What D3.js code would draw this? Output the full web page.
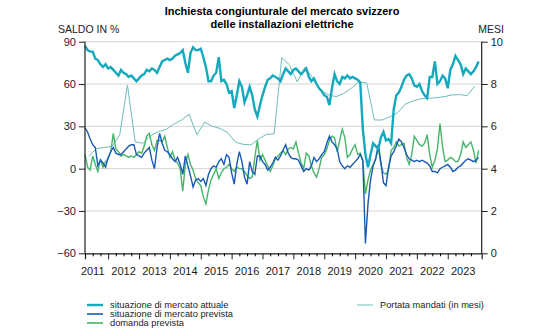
<!DOCTYPE html>
<html>
<head>
<meta charset="utf-8">
<script src="https://d3js.org/d3.v7.min.js"></script>
<style>
  body { margin: 0; background: #fff; }
  svg { font-family: "Liberation Sans", Arial, sans-serif; }
</style>
</head>
<body>
<svg id="chart" width="560" height="336"></svg>
<script>
// monthly series, first value = April 2011
var startYear = 2011.25;
var attuale = [87,84,83,83,78,77,74,72,74,71,72,70,68,66,70,68,67,65,66,64,62,64,66,67,70,69,71,70,68,72,
  76,77,78,77,78,80,81,82,84,75,68,82,86,84,84,85,79,72,62,62,66,68,79,62,63,60,54,55,43,52,
  62,58,47,52,58,52,42,37,45,52,58,63,64,66,65,64,62,67,71,69,67,70,71,69,67,69,71,65,62,64,
  60,57,55,52,51,45,57,67,62,60,65,64,66,64,65,64,63,61,28,10,1,10,18,16,14,22,26,20,21,18,
  42,52,54,58,63,66,67,64,59,58,60,55,52,50,65,65,76,60,62,66,64,57,70,74,80,77,74,67,71,69,
  67,69,72,76];
var prevista = [29,26,21,17,15,2,6,4,1,8,12,15,11,10,10,12,14,16,17,17,10,9,8,11,13,15,6,0,15,25,
  18,13,12,10,7,5,8,3,-4,9,2,-5,-13,-8,-7,-9,-7,-12,-4,0,2,1,5,7,3,10,8,-3,-11,3,
  12,5,-6,-11,5,-2,-4,9,9,5,3,-1,1,4,8,6,9,13,17,11,8,7,7,6,2,-2,0,-1,2,8,
  5,7,10,12,18,23,19,17,14,5,2,0,2,1,3,5,7,10,6,-53,-25,-8,2,7,17,5,-10,-12,1,9,
  12,16,21,19,15,10,7,6,5,6,5,6,5,4,2,-2,-2,-3,0,1,2,3,1,-2,-1,1,2,4,6,7,
  6,5,6,8];
var domanda = [10,1,-1,9,3,-2,7,1,5,7,12,25,14,12,9,10,9,8,9,8,10,12,11,16,23,25,17,13,20,20,
  19,23,15,8,12,6,4,0,-16,3,10,3,-1,-7,-10,-12,-20,-25,-15,-8,-4,0,-7,-3,0,1,3,0,-2,1,
  0,0,-2,-5,-7,-6,8,20,6,10,6,2,-2,2,7,9,11,13,10,14,15,14,19,11,4,0,11,9,2,-3,
  -6,0,8,10,14,20,23,22,12,20,28,22,8,10,14,17,10,11,5,-18,-8,-1,3,7,15,3,-3,-4,-1,13,
  15,19,16,17,18,8,3,10,23,20,17,16,18,24,10,1,6,14,32,15,5,6,8,7,5,5,10,19,15,17,
  19,13,4,13];
// quarterly series (months), first value = Q2 2011
var mandati = [4.6,4.95,5.0,5.05,5.6,7.95,5.27,5.2,5.55,5.75,5.85,6.1,6.3,6.57,5.6,6.2,6.0,5.9,5.7,5.25,
  5.15,5.12,5.4,5.62,5.64,9.25,8.9,8.1,8.8,8.3,7.7,7.5,7.4,7.55,7.8,8.1,8.05,6.3,6.3,6.45,
  6.65,7.05,7.2,7.3,7.33,7.35,7.4,7.48,7.5,7.45,7.9];
var years = d3.range(2011, 2024);
var leftTicks = [-60, -30, 0, 30, 60, 90];
var rightTicks = [0, 2, 4, 6, 8, 10];

var svg = d3.select("#chart");
var pL = 85, pR = 481.7, pT = 41.7, pB = 253.3;

var x = d3.scaleLinear().domain([2011.25, 2024.1]).range([pL, pR]);
var yL = d3.scaleLinear().domain([-60, 90]).range([pB, pT]);
var yR = d3.scaleLinear().domain([0, 10]).range([pB, pT]);

// gridlines
svg.append("g").selectAll("line")
  .data(leftTicks.filter(function (d) { return d > -60; }))
  .enter().append("line")
  .attr("x1", pL).attr("x2", pR)
  .attr("y1", function (d) { return yL(d); })
  .attr("y2", function (d) { return yL(d); })
  .attr("stroke", "#d4d4d4").attr("stroke-width", 1);

function monthly(arr) {
  return arr.map(function (v, i) { return [startYear + i / 12, v]; });
}
function quarterly(arr) {
  return arr.map(function (v, i) { return [startYear + i / 4 + 0.125, v]; });
}

var lineL = d3.line().x(function (d) { return x(d[0]); }).y(function (d) { return yL(d[1]); });
var lineR = d3.line().x(function (d) { return x(d[0]); }).y(function (d) { return yR(d[1]); });

var cMand = "#6cbcb8", cAtt = "#14a9bd", cPrev = "#1759b5", cDom = "#46b46b";

svg.append("path").datum(quarterly(mandati)).attr("d", lineR)
  .attr("fill", "none").attr("stroke", cMand).attr("stroke-width", 1);
svg.append("path").datum(monthly(domanda)).attr("d", lineL)
  .attr("fill", "none").attr("stroke", cDom).attr("stroke-width", 1.4);
svg.append("path").datum(monthly(prevista)).attr("d", lineL)
  .attr("fill", "none").attr("stroke", cPrev).attr("stroke-width", 1.4);
svg.append("path").datum(monthly(attuale)).attr("d", lineL)
  .attr("fill", "none").attr("stroke", cAtt).attr("stroke-width", 2.4);

// axes
var axL = svg.append("g").attr("transform", "translate(" + pL + ",0)")
  .call(d3.axisLeft(yL).tickValues(leftTicks).tickSize(6).tickFormat(function (d) { return d < 0 ? "\u2212" + (-d) : d; }));
var axR = svg.append("g").attr("transform", "translate(" + pR + ",0)")
  .call(d3.axisRight(yR).tickValues(rightTicks).tickSize(6));
var quarters = d3.range(2011.25, 2024.01, 0.25).filter(function (d) { return d % 1 !== 0; });
var axB = svg.append("g").attr("transform", "translate(0," + pB + ")")
  .call(d3.axisBottom(x).tickValues(years.slice(1)).tickSize(6).tickFormat(""));
svg.append("g").attr("transform", "translate(0," + pB + ")")
  .call(d3.axisBottom(x).tickValues(quarters).tickSize(3).tickFormat(""))
  .select(".domain").remove();
svg.append("g").selectAll("text").data(years).enter().append("text")
  .attr("x", function (d) { return x(d + 0.5); })
  .attr("y", 275).attr("text-anchor", "middle")
  .attr("font-size", 11).attr("fill", "#222")
  .text(function (d) { return d; });

[axL, axR, axB].forEach(function (g) {
  g.select(".domain").attr("stroke", "#222").attr("stroke-width", 1.2);
  g.selectAll(".tick line").attr("stroke", "#222");
  g.selectAll(".tick text").attr("font-size", 11).attr("fill", "#222")
    .attr("font-family", "Liberation Sans, Arial, sans-serif");
});
axL.select(".domain").attr("d", "M0," + pB + "V" + pT);
axR.select(".domain").attr("d", "M0," + pB + "V" + pT);

// titles
svg.append("text").attr("x", 282).attr("y", 15).attr("text-anchor", "middle")
  .attr("font-size", 11).attr("font-weight", "bold").text("Inchiesta congiunturale del mercato svizzero");
svg.append("text").attr("x", 282).attr("y", 28).attr("text-anchor", "middle")
  .attr("font-size", 11).attr("font-weight", "bold").text("delle installazioni elettriche");
svg.append("text").attr("x", 58).attr("y", 33).attr("font-size", 10.5).attr("fill", "#222").text("SALDO IN %");
svg.append("text").attr("x", 504).attr("y", 33).attr("text-anchor", "end")
  .attr("font-size", 10.5).attr("fill", "#222").text("MESI");

// legend
var legend = [
  { name: "situazione di mercato attuale", color: cAtt, w: 2.4, x: 87, y: 305 },
  { name: "situazione di mercato prevista", color: cPrev, w: 1.6, x: 87, y: 314 },
  { name: "domanda prevista", color: cDom, w: 1.6, x: 87, y: 323 },
  { name: "Portata mandati (in mesi)", color: cMand, w: 1, x: 357, y: 305 }
];
var lg = svg.append("g").selectAll("g").data(legend).enter().append("g");
lg.append("line").attr("x1", function (d) { return d.x; }).attr("x2", function (d) { return d.x + 16; })
  .attr("y1", function (d) { return d.y; }).attr("y2", function (d) { return d.y; })
  .attr("stroke", function (d) { return d.color; }).attr("stroke-width", function (d) { return d.w; });
lg.append("text").attr("x", function (d) { return d.x + 23; }).attr("y", function (d) { return d.y + 3.2; })
  .attr("font-size", 9.3).attr("fill", "#222").text(function (d) { return d.name; });
</script>
</body>
</html>
